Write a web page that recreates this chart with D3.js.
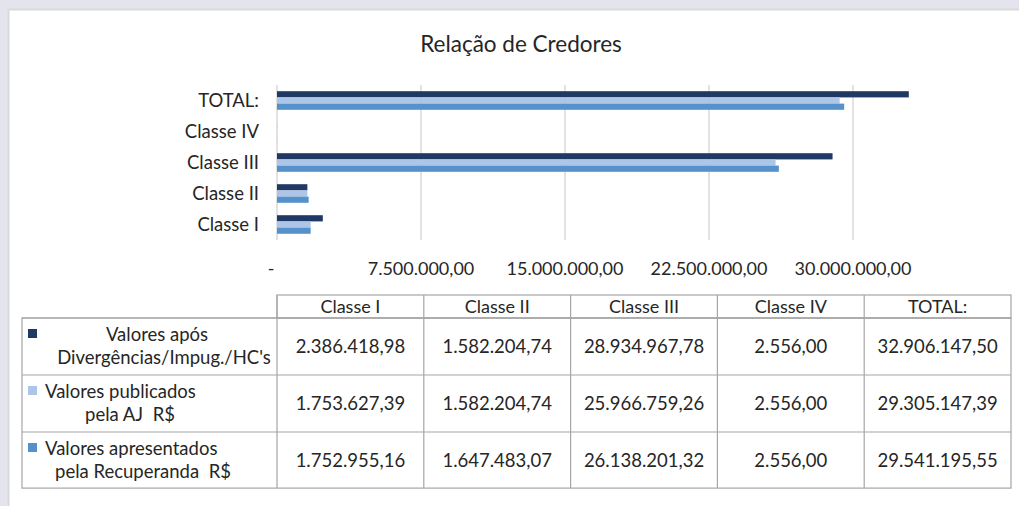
<!doctype html>
<html>
  <head>
    <meta charset="utf-8">
    <script src="https://cdn.jsdelivr.net/npm/d3@7/dist/d3.min.js"></script>
    <style>
      body { margin: 0; background: #e4e4ee; }
      text { font-family: Lato, "Open Sans", sans-serif; fill: #262626; }
    </style>
  </head>
  <body>
    <div id="chart"></div>
    <script>
      // chart values
      var categories = ["Classe I", "Classe II", "Classe III", "Classe IV", "TOTAL:"];
      var seriesLabelLines = [["Valores após", "Divergências/Impug./HC's"],
                              ["Valores publicados", "pela AJ\u00a0 R$"],
                              ["Valores apresentados", "pela Recuperanda\u00a0 R$"]];
      var aposValues = [2386418.98, 1582204.74, 28934967.78, 2556.00, 32906147.50];
      var publicadosValues = [1753627.39, 1582204.74, 25966759.26, 2556.00, 29305147.39];
      var apresentadosValues = [1752955.16, 1647483.07, 26138201.32, 2556.00, 29541195.55];
      var tickValues = [0, 7500000, 15000000, 22500000, 30000000];
      var colors = ["#203864", "#adc5e7", "#5592cb"];

      var series = [aposValues, publicadosValues, apresentadosValues];

      var width = 1019, height = 506;
      var br = d3.formatLocale({decimal: ",", thousands: ".", grouping: [3], currency: ["R$", ""]});
      var fmt = br.format(",.2f");
      var tickFmt = function(d) { return d === 0 ? "-" : fmt(d); };

      var svg = d3.select("#chart").append("svg")
        .attr("width", width).attr("height", height);

      // white card over the slide background
      svg.append("rect").attr("x", 8.5).attr("y", 9.5)
        .attr("width", width).attr("height", height)
        .attr("fill", "#ffffff").attr("stroke", "#d9d9d9").attr("stroke-width", 2);

      svg.append("text").attr("x", 521).attr("y", 52)
        .attr("text-anchor", "middle").attr("font-size", 22.5)
        .text("Relação de Credores");

      // scales
      var x = d3.scaleLinear().domain([0, 37500000]).range([277, 997]);
      var y = d3.scaleBand().domain(categories.slice().reverse())
        .range([85, 240]).paddingInner(0.4).paddingOuter(0.2);
      var ys = d3.scaleBand().domain(d3.range(series.length)).range([0, y.bandwidth()]);

      // gridlines
      svg.append("g").selectAll("line").data(tickValues).enter()
        .append("line")
        .attr("x1", function(d) { return x(d); }).attr("x2", function(d) { return x(d); })
        .attr("y1", 85).attr("y2", 240)
        .attr("stroke", "#d9d9d9").attr("stroke-width", 1.5);

      // bars
      series.forEach(function(vals, si) {
        svg.append("g").selectAll("rect").data(vals).enter()
          .append("rect")
          .attr("x", x(0))
          .attr("y", function(d, i) { return y(categories[i]) + ys(si); })
          .attr("width", function(d) { return x(d) - x(0); })
          .attr("height", ys.bandwidth())
          .attr("fill", colors[si]);
      });

      // category axis labels
      svg.append("g").selectAll("text").data(categories).enter()
        .append("text")
        .attr("x", 259)
        .attr("y", function(d) { return y(d) + y.bandwidth() / 2; })
        .attr("dy", "0.35em").attr("text-anchor", "end").attr("font-size", 18.5)
        .text(function(d) { return d; });

      // value axis labels
      svg.append("g").selectAll("text").data(tickValues).enter()
        .append("text")
        .attr("x", function(d) { return d === 0 ? x(d) - 6 : x(d); })
        .attr("y", 275)
        .attr("text-anchor", "middle").attr("font-size", 18)
        .text(tickFmt);

      // data table
      var tx = d3.scaleBand().domain(categories).range([277, 1011]);
      var rowTop = [318, 375, 432];
      var rowH = 56.7;
      var grid = svg.append("g").attr("fill", "none").attr("stroke", "#a6a6a6").attr("stroke-width", 1.2);
      grid.append("rect").attr("x", 277).attr("y", 295).attr("width", 734).attr("height", 23);
      grid.append("rect").attr("x", 22).attr("y", 318).attr("width", 989).attr("height", rowH * 3);
      categories.forEach(function(c) {
        grid.append("line").attr("x1", tx(c)).attr("x2", tx(c)).attr("y1", 295).attr("y2", 318 + rowH * 3);
      });
      rowTop.forEach(function(t) {
        grid.append("line").attr("x1", 22).attr("x2", 1011).attr("y1", t).attr("y2", t);
      });

      svg.append("g").selectAll("text").data(categories).enter()
        .append("text")
        .attr("x", function(d) { return tx(d) + tx.bandwidth() / 2; })
        .attr("y", 313).attr("text-anchor", "middle").attr("font-size", 18)
        .text(function(d) { return d; });

      series.forEach(function(vals, si) {
        svg.append("g").selectAll("text").data(vals).enter()
          .append("text")
          .attr("x", function(d, i) { return tx(categories[i]) + tx.bandwidth() / 2; })
          .attr("y", rowTop[si] + rowH / 2).attr("dy", "0.35em")
          .attr("text-anchor", "middle").attr("font-size", 18.5)
          .text(fmt);

        // legend key + wrapped series name
        svg.append("rect").attr("x", 28).attr("y", rowTop[si] + 11)
          .attr("width", 9).attr("height", 9).attr("fill", colors[si]);
        var lines = seriesLabelLines[si];
        var cx = [164, 130, 143][si];
        svg.append("text").attr("x", si === 0 ? 157 : 45).attr("y", rowTop[si] + 23)
          .attr("text-anchor", si === 0 ? "middle" : "start").attr("font-size", 18.5)
          .text(lines[0]);
        svg.append("text").attr("x", cx).attr("y", rowTop[si] + 46)
          .attr("text-anchor", "middle").attr("font-size", 18.5)
          .text(lines[1]);
      });
    </script>
  </body>
</html>
